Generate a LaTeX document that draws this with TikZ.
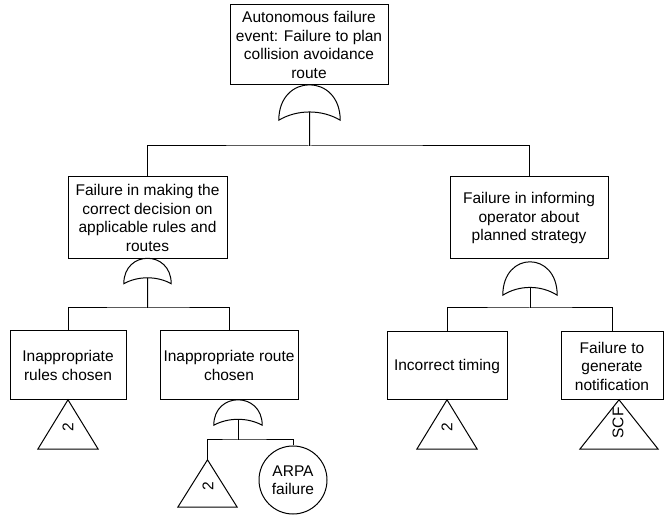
\documentclass[tikz,border=0pt]{standalone}
\usepackage{fontspec}
\setmainfont{Liberation Sans}
\usetikzlibrary{calc}

\tikzset{
  every node/.style={font=\fontsize{15.5}{18.5}\selectfont, inner sep=0pt},
  event/.style={draw, line width=1pt, align=center, minimum width=#1},
  gatebox/.style={minimum width=#1, inner sep=0pt},
  tribox/.style={minimum width=#1, minimum height=49, inner sep=0pt},
  wire/.style={line width=1pt},
}

% OR gate outline drawn inside the named (invisible) node
\newcommand\orgate[1]{%
  \draw[wire] let \p1=(#1.south west), \p2=(#1.north east) in
    (\x1,\y1) .. controls (\x1,{\y2+(\y2-\y1)/3}) and (\x2,{\y2+(\y2-\y1)/3}) .. (\x2,\y1)
    .. controls ({\x2-0.3*(\x2-\x1)},{\y1+0.31*(\y2-\y1)}) and ({\x1+0.3*(\x2-\x1)},{\y1+0.31*(\y2-\y1)}) .. cycle;
  \coordinate (#1-out) at ($(#1.south)!0.2325!(#1.north)$);}

% transfer triangle drawn inside the named (invisible) node
\newcommand\transfer[1]{%
  \draw[wire] (#1.north) -- (#1.south east) -- (#1.south west) -- cycle;}

\begin{document}
\begin{tikzpicture}[x=1pt,y=-1pt]
\useasboundingbox (0,0) rectangle (667,518);

% events
\node[event=158, minimum height=80] (top) at (309,45)
  {Autonomous failure\\event: Failure to plan\\collision avoidance\\route};
\node[event=159, minimum height=82] (dec) at (147.5,218)
  {Failure in making the\\correct decision on\\applicable rules and\\routes};
\node[event=158, minimum height=82] (inf) at (529,218)
  {Failure in informing\\operator about\\planned strategy};
\node[event=116, minimum height=69] (rul) at (68,365.5)
  {Inappropriate\\rules chosen};
\node[event=138, minimum height=69] (rou) at (229,365.5)
  {Inappropriate route\\chosen};
\node[event=120, minimum height=68] (tim) at (447,366)
  {Incorrect timing};
\node[event=102, minimum height=68] (not) at (612,366)
  {Failure to\\generate\\notification};
\node[draw, wire, circle, minimum size=68, align=center] (arpa) at (293,480)
  {ARPA\\failure};

% gates
\node[gatebox=61, minimum height=35] (g0) at (309.5,102.5) {};
\node[gatebox=47, minimum height=25] (g1) at (147.5,271) {};
\node[gatebox=54, minimum height=33] (g2) at (530,278.5) {};
\node[gatebox=48, minimum height=25] (g3) at (238,412.5) {};
\orgate{g0}\orgate{g1}\orgate{g2}\orgate{g3}

% transfer triangles
\node[tribox=60] (t1) at (68,424.5) {};
\node[tribox=59, minimum height=47] (t2) at (207.5,483.5) {};
\node[tribox=60] (t3) at (447,424.5) {};
\node[tribox=78] (t4) at (619,424.5) {};
\transfer{t1}\transfer{t2}\transfer{t3}\transfer{t4}
\node[rotate=90] (t1l) at (68,427) {2};
\node[rotate=90] (t2l) at (208,486) {2};
\node[rotate=90] (t3l) at (447,427) {2};
\node[rotate=90] (t4l) at (618,423) {SCF};

% junctions
\coordinate (j0) at (309.5,146);
\coordinate (j1) at (147.5,308);
\coordinate (j2) at (530,308);
\coordinate (j3) at (238,440);

% connectors
\draw[wire] (g0-out) -- (j0);
\draw[wire] (dec.north) |- (j0) -| (inf.north);
\draw[wire] (g1-out) -- (j1);
\draw[wire] (rul.north) |- (j1) -| (rou.north);
\draw[wire] (g2-out) -- (j2);
\draw[wire] (tim.north) |- (j2) -| (not.north);
\draw[wire] (g3-out) -- (j3);
\draw[wire] (t2.north) |- (j3) -| (arpa.north);
\end{tikzpicture}
\end{document}
